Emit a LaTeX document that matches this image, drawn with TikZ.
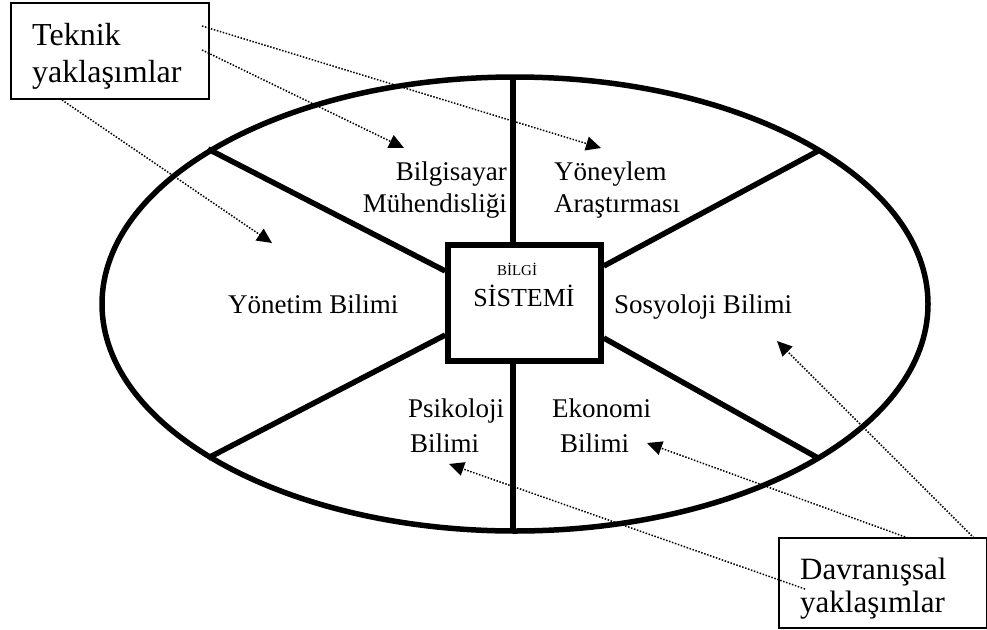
\documentclass[tikz,border=0pt]{standalone}
\usepackage{fontspec}
\setmainfont{Liberation Serif}
\usetikzlibrary{arrows.meta,shapes.geometric}
\begin{document}
\begin{tikzpicture}[x=1pt,y=-1pt,
  heavy/.style={line width=5.5pt},
  lbl/.style={inner sep=0pt, font=\fontsize{27}{31}\selectfont},
  big/.style={inner sep=0pt, font=\fontsize{32}{37}\selectfont},
  note/.style={draw, line width=1.5pt, inner sep=0pt, anchor=north west},
  ptr/.style={line width=1.5pt, dash pattern=on 1.5pt off 1.6pt,
    -{Triangle[length=15pt,width=14pt]}},
]
\useasboundingbox (0,0) rectangle (987,629);

% ellipse and central box
\node[draw, ellipse, heavy, minimum width=826pt, minimum height=454pt, inner sep=0pt] (ell) at (515,304) {};
\node[draw, heavy, minimum width=153pt, minimum height=116pt, inner sep=0pt] (sys) at (524.5,303) {};

% junctions on ellipse
\coordinate (top) at (513,78);
\coordinate (bot) at (513,531);
\coordinate (jul) at (208,149);
\coordinate (jur) at (818,151);
\coordinate (jll) at (208,458);
\coordinate (jlr) at (818,458);

\draw[heavy] (top) -- (top |- sys.north);
\draw[heavy] (bot) -- (bot |- sys.south);
\draw[heavy] (jul) -- (sys.west |- 0,271);
\draw[heavy] (jur) -- (sys.east |- 0,266);
\draw[heavy] (jll) -- (sys.west |- 0,335);
\draw[heavy] (jlr) -- (sys.east |- 0,338);

% central text
\node[inner sep=0pt, font=\fontsize{15}{17}\selectfont, anchor=base] (bilgi) at (517,275) {BİLGİ};
\node[inner sep=0pt, font=\fontsize{26}{30}\selectfont, anchor=base] (sistemi) at (524,306) {SİSTEMİ};

% sector labels
\node[lbl, anchor=base east] (bil1) at (507,180) {Bilgisayar};
\node[lbl, anchor=base east] (bil2) at (507,212) {Mühendisliği};
\node[lbl, anchor=base west] (yon1) at (554,180) {Yöneylem};
\node[lbl, anchor=base west] (yon2) at (554,212) {Araştırması};
\node[lbl, anchor=base west] (ynt) at (228,313) {Yönetim Bilimi};
\node[lbl, anchor=base west] (sos) at (614,313) {Sosyoloji Bilimi};
\node[lbl, anchor=base west] (psi1) at (408,417) {Psikoloji};
\node[lbl, anchor=base west] (psi2) at (410,452) {Bilimi};
\node[lbl, anchor=base west] (eko1) at (552,417) {Ekonomi};
\node[lbl, anchor=base west] (eko2) at (560,452) {Bilimi};

% note boxes
\node[note, minimum width=198pt, minimum height=96pt] (tek) at (10,2) {};
\node[big, anchor=base west] (tek1) at (32,45) {Teknik};
\node[big, anchor=base west] (tek2) at (32,82) {yaklaşımlar};
\node[note, minimum width=208pt, minimum height=90pt] (dav) at (778,537) {};
\node[inner sep=0pt, font=\fontsize{31}{35}\selectfont, anchor=base west] (dav1) at (800,579) {Davranışsal};
\node[inner sep=0pt, font=\fontsize{31}{35}\selectfont, anchor=base west] (dav2) at (800,612) {yaklaşımlar};

% pointer ends
\coordinate (s1) at (202,26);
\coordinate (s2) at (202,50);
\coordinate (s3) at (62,100);
\coordinate (s4) at (974,538);
\coordinate (s5) at (908,538);
\coordinate (s6) at (805,589);
\coordinate (a1) at (601,148);
\coordinate (a2) at (404,148);
\coordinate (a3) at (272,243);
\coordinate (a4) at (777,341);
\coordinate (a5) at (647,443);
\coordinate (a6) at (449,464);

\draw[ptr] (s1) -- (a1);
\draw[ptr] (s2) -- (a2);
\draw[ptr] (s3) -- (a3);
\draw[ptr] (s4) -- (a4);
\draw[ptr] (s5) -- (a5);
\draw[ptr] (s6) -- (a6);
\end{tikzpicture}
\end{document}
